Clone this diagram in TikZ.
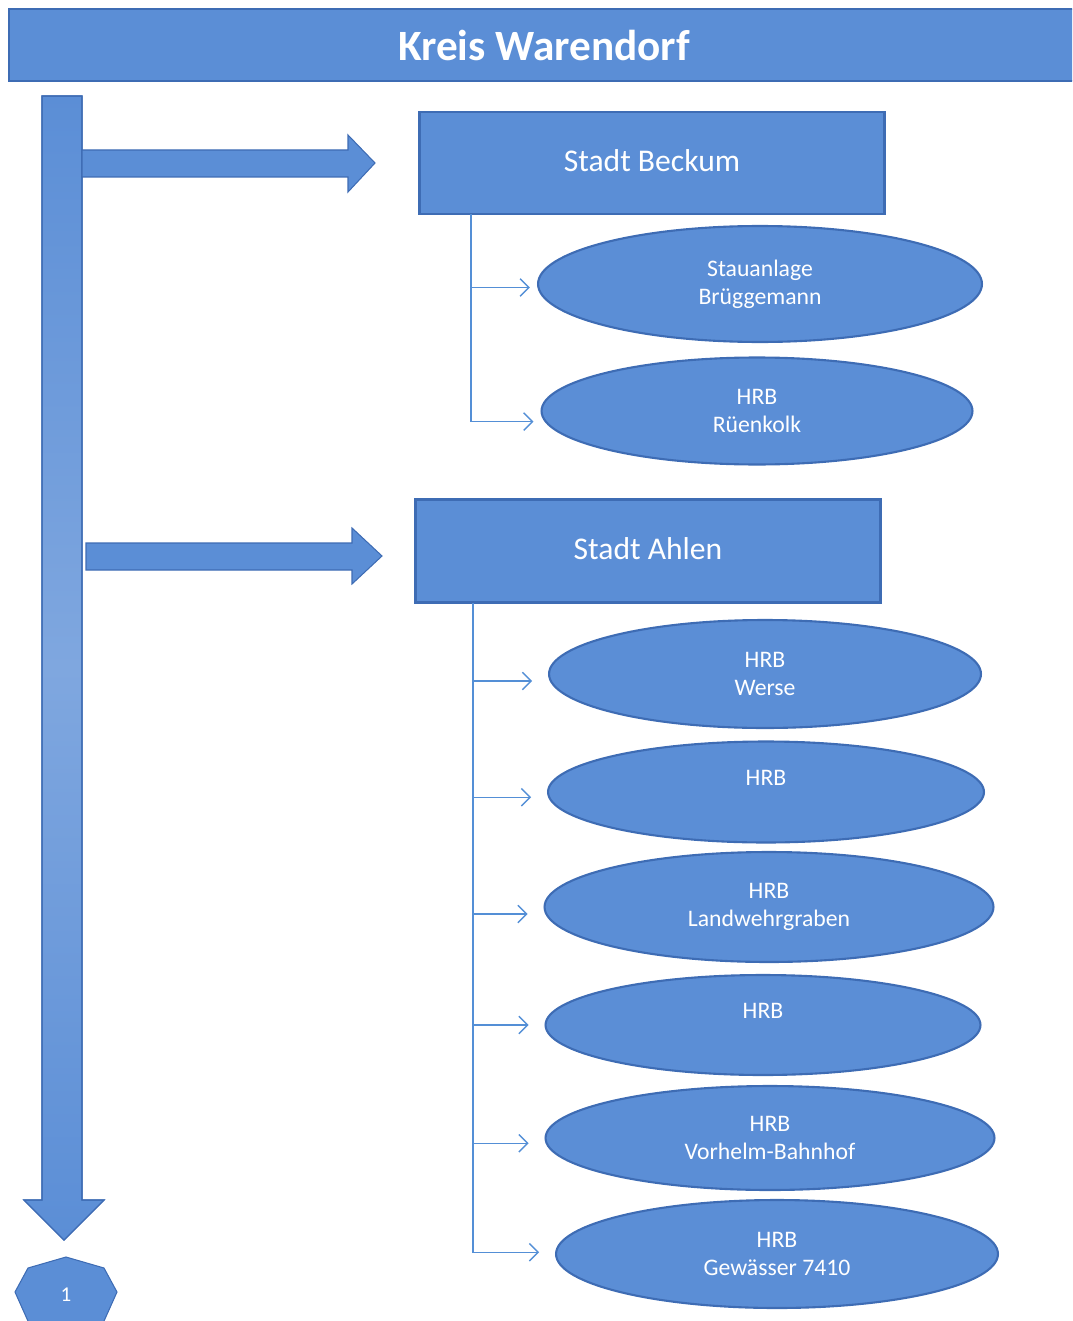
\documentclass[tikz,border=0pt]{standalone}
\usepackage{fontspec}
\setmainfont{Carlito}
\usetikzlibrary{arrows.meta,shapes.geometric}

\definecolor{wblue}{RGB}{91,142,214}
\definecolor{wedge}{RGB}{62,108,180}
\definecolor{wline}{RGB}{84,143,214}

\tikzset{
  box/.style={draw=wedge, line width=1.2pt, fill=wblue, text=white,
    font=\fontsize{18}{20}\selectfont},
  dam/.style={ellipse, draw=wedge, line width=1.2pt, fill=wblue, text=white,
    align=center, inner sep=0pt, font=\fontsize{13.5}{16}\selectfont},
  conn/.style={wline, line width=0.8pt, -{Straight Barb[length=5pt,width=10pt]}},
  bigarrow/.style={fill=wblue, draw=wedge, line width=0.6pt},
}

\begin{document}
\begin{tikzpicture}[x=0.02cm, y=-0.02cm]
  \useasboundingbox (0,0) rectangle (1072,1321);
  \clip (0,0) rectangle (1072,1321);

  % Banner
  \node[box, anchor=north west, minimum width=21.4cm, minimum height=1.44cm,
    font=\fontsize{24.6}{26}\selectfont\bfseries] (kreis) at (8,8) {Kreis Warendorf};

  % Vertical arrow down to the page marker
  \path[bigarrow, top color=wblue, bottom color=wblue, middle color=wblue!78!white]
    (42,96) -- (82,96) -- (82,1200) -- (104,1200) -- (64,1240)
    -- (24,1200) -- (42,1200) -- cycle;
  \draw[wedge, line width=0.6pt] (42,96) -- (82,96) -- (82,1200) -- (104,1200) -- (64,1240)
    -- (24,1200) -- (42,1200) -- cycle;

  % Arrows to the towns
  \draw[bigarrow] (82,150) -- (348,150) -- (348,135) -- (375,163)
    -- (348,192) -- (348,177) -- (82,177) -- cycle;
  \draw[bigarrow] (86,543) -- (352,543) -- (352,528) -- (382,556)
    -- (352,584) -- (352,570) -- (86,570) -- cycle;

  % Towns
  \node[box, minimum width=9.3cm, minimum height=2.04cm] (beckum) at (652,163) {\raisebox{3pt}{Stadt Beckum}};
  \node[box, minimum width=9.3cm, minimum height=2.06cm] (ahlen) at (648,551) {\raisebox{3pt}{Stadt Ahlen}};

  % Dams of Beckum
  \node[dam, minimum width=8.88cm, minimum height=2.32cm] (bru) at (760,284) {Stauanlage\\Brüggemann};
  \node[dam, minimum width=8.62cm, minimum height=2.14cm] (rue) at (757,411) {HRB\\Rüenkolk};

  % Dams of Ahlen
  \node[dam, minimum width=8.64cm, minimum height=2.16cm] (wer) at (765,674) {HRB\\Werse};
  \node[dam, minimum width=8.72cm, minimum height=2.02cm] (hrba) at (766,792) {HRB\\\phantom{X}};
  \node[dam, minimum width=8.98cm, minimum height=2.2cm] (lan) at (769,907) {HRB\\Landwehrgraben};
  \node[dam, minimum width=8.7cm, minimum height=2.0cm] (hrbb) at (763,1025) {HRB\\\phantom{X}};
  \node[dam, minimum width=8.98cm, minimum height=2.08cm] (vor) at (770,1138) {HRB\\Vorhelm-Bahnhof};
  \node[dam, minimum width=8.84cm, minimum height=2.16cm] (gew) at (777,1254) {HRB\\Gewässer 7410};

  % Connectors
  \coordinate (bk) at (471,214);
  \coordinate (ah) at (473,603);
  \foreach \d/\s in {bru/-2pt,rue/-6pt}
    \draw[conn] (bk) |- ([xshift=-4pt,yshift=\s]\d.west);
  \foreach \d/\s in {wer/-4pt,hrba/-3pt,lan/-4pt,hrbb/0pt,vor/-3pt,gew/1pt}
    \draw[conn] (ah) |- ([xshift=-9pt,yshift=\s]\d.west);

  % Page marker
  \draw[bigarrow] (66,1257) -- (104,1268) -- (117,1292) -- (100,1330)
    -- (32,1330) -- (15,1292) -- (28,1268) -- cycle;
  \node[text=white, font=\fontsize{12}{14}\selectfont] (page) at (66,1295) {1};
\end{tikzpicture}
\end{document}
